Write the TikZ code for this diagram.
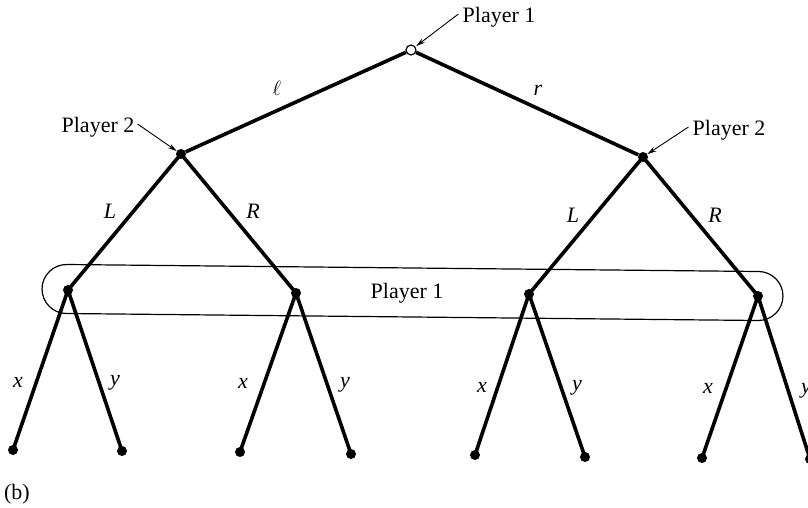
\documentclass[tikz,border=0pt]{standalone}
\usepackage{fontspec}
\setmainfont{Liberation Serif}
\usetikzlibrary{arrows.meta,shapes.misc}
\begin{document}
\begin{tikzpicture}[x=1pt,y=-1pt,
  dot/.style={circle,fill=black,inner sep=0pt,minimum size=10pt},
  opendot/.style={circle,draw=black,fill=white,line width=1.2pt,inner sep=0pt,minimum size=10pt},
  edge/.style={line width=3.6pt},
  arr/.style={line width=0.9pt,-{Stealth[length=9pt,width=5pt]}},
  lab/.style={font=\fontsize{22}{25}\selectfont,inner sep=0pt},
  elab/.style={font=\fontsize{22}{25}\selectfont\itshape,inner sep=0pt}]
\useasboundingbox (0,0) rectangle (808,508);
% information set
\node[rounded rectangle,draw,line width=1.2pt,minimum width=741pt,minimum height=49pt,rotate=-0.58,inner sep=0pt] (info) at (412.5,292.5) {};
\node[lab] (infolab) at (407,293) {Player 1};
% nodes
\node[opendot] (root) at (411,50) {};
\node[dot] (p2l) at (181,154) {};
\node[dot] (p2r) at (643,157) {};
\node[dot] (a) at (68,290) {};
\node[dot] (b) at (296,293) {};
\node[dot] (c) at (529,294) {};
\node[dot] (d) at (758,296) {};
\node[dot] (a1) at (13,450) {};
\node[dot] (a2) at (122,451) {};
\node[dot] (b1) at (240,452) {};
\node[dot] (b2) at (351,454) {};
\node[dot] (c1) at (475,455) {};
\node[dot] (c2) at (585,457) {};
\node[dot] (d1) at (702,458) {};
\node[dot] (d2) at (810,459) {};
% edges
\draw[edge] (root) -- (p2l);
\draw[edge] (root) -- (p2r);
\draw[edge] (p2l.center) -- (a.center);
\draw[edge] (p2l.center) -- (b.center);
\draw[edge] (p2r.center) -- (c.center);
\draw[edge] (p2r.center) -- (d.center);
\foreach \p in {a,b,c,d}{
  \draw[edge] (\p.center) -- (\p1.center);
  \draw[edge] (\p.center) -- (\p2.center);
}
% edge labels
\node[elab] (l1) at (277,88) {$\ell$};
\node[elab] (r1) at (538,90) {r};
\node[elab] (L1) at (110,211) {L};
\node[elab] (R1) at (253,211) {R};
\node[elab] (L2) at (573,215) {L};
\node[elab] (R2) at (715,215) {R};
\node[elab] (x1) at (18,382) {x};
\node[elab] (y1) at (115,383) {y};
\node[elab] (x2) at (243,383) {x};
\node[elab] (y2) at (345,385) {y};
\node[elab] (x3) at (482,387) {x};
\node[elab] (y3) at (577,388) {y};
\node[elab] (x4) at (708,388) {x};
\node[elab] (y4) at (806,391) {y};
% player labels
\node[lab] (pl1) at (499,17) {Player 1};
\node[lab] (pl2l) at (98,127) {Player 2};
\node[lab] (pl2r) at (729,130) {Player 2};
\draw[arr,shorten >=1pt] ([xshift=-4pt,yshift=3pt]pl1.west) -- (root);
\draw[arr] ([xshift=3pt,yshift=3pt]pl2l.east) -- (p2l);
\draw[arr] ([xshift=-4pt,yshift=3pt]pl2r.west) -- (p2r);
\node[lab] (blab) at (17,494) {(b)};
\end{tikzpicture}
\end{document}
